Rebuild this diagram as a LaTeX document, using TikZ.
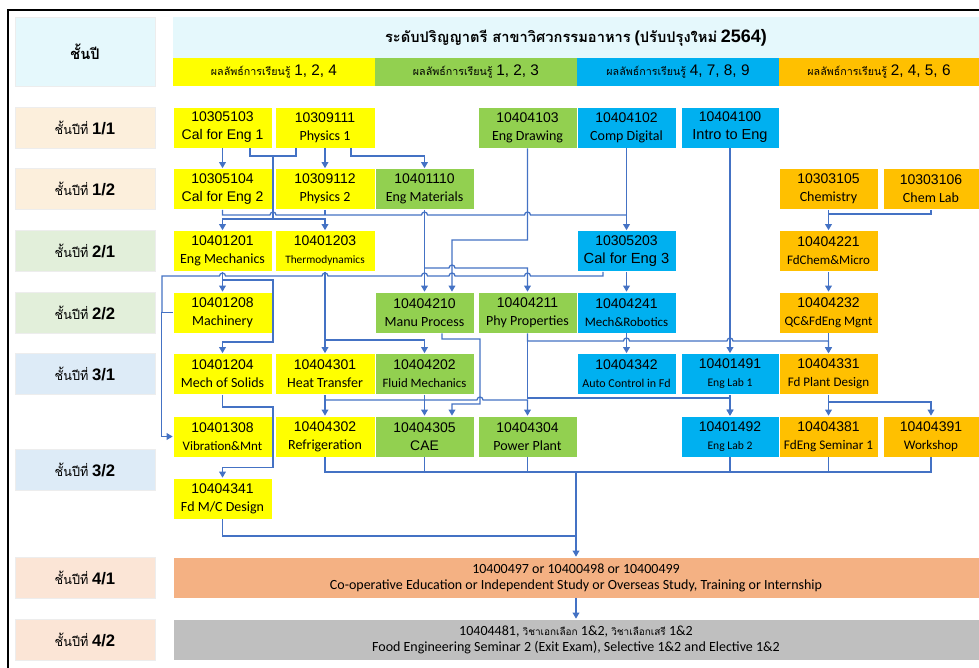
\documentclass[tikz,border=0pt]{standalone}
\usepackage{fontspec}
\setmainfont{Liberation Sans}
\newfontfamily\calfont{Carlito}
\newfontfamily\thaifont[Script=Thai]{Loma}
\usetikzlibrary{arrows.meta}
\definecolor{cyel}{HTML}{FFFF00}
\definecolor{cgrn}{HTML}{92D050}
\definecolor{cblu}{HTML}{00B0F0}
\definecolor{corg}{HTML}{FFC000}
\definecolor{cline}{HTML}{4472C4}
\definecolor{hdr}{HTML}{E5F8FC}
\definecolor{labA}{HTML}{FCEFDC}
\definecolor{labB}{HTML}{E2EFDA}
\definecolor{labC}{HTML}{DDEBF7}
\definecolor{labD}{HTML}{FBE5D6}
\definecolor{bandA}{HTML}{F4B183}
\definecolor{bandB}{HTML}{BFBFBF}
\newcommand\nm[2][10.5]{{\calfont\fontsize{#1}{13.5}\selectfont #2}}
\newcommand\hpr{arc[start angle=180,end angle=0,radius=2.25pt]}
\newcommand\hpl{arc[start angle=0,end angle=180,radius=2.25pt]}
\newcommand\rowlab[1]{{\thaifont\fontsize{9.5}{11}\selectfont ชั้นปีที่}~{\bfseries\fontsize{12.5}{13}\selectfont #1}}
\newcommand\plo[1]{{\thaifont\fontsize{8}{9}\selectfont ผลลัพธ์การเรียนรู้}~{\fontsize{11.5}{12}\selectfont #1}}
\begin{document}
\begin{tikzpicture}[x=0.75pt,y=-0.75pt,
  cb/.style={fill=#1, draw=white, line width=0.5pt, minimum width=74.25pt, minimum height=30.75pt, inner sep=0pt, align=center, font=\fontsize{10.5}{13.5}\selectfont},
  lb/.style={fill=#1, draw=black!7, line width=0.5pt, minimum width=105pt, minimum height=30.75pt, inner sep=0pt},
  band/.style={fill=#1, minimum width=151.5pt, minimum height=21pt, inner sep=0pt},
  wide/.style={fill=#1, draw=white, line width=0.5pt, minimum width=604.5pt, minimum height=30.75pt, inner sep=0pt, align=center},
  con/.style={draw=cline, line width=0.95pt},
  arr/.style={con, -{Triangle[width=5pt,length=4.5pt]}}]
\useasboundingbox (0,0) rectangle (979,668);
\fill[white] (0,0) rectangle (979,668);
\draw[line width=1.3pt] (8,668) -- (8,10) -- (979,10);

% header
\node[fill=hdr, draw=black!7, line width=0.5pt, minimum width=105pt, minimum height=51.75pt, inner sep=0pt] (hd) at (85,51.5) {\thaifont\bfseries\fontsize{11}{13}\selectfont ชั้นปี};
\node[fill=hdr, minimum width=604.5pt, minimum height=30.75pt, inner sep=0pt] (title) at (576,37.5) {{\thaifont\bfseries\fontsize{11}{13}\selectfont ระดับปริญญาตรี สาขาวิศวกรรมอาหาร}~{\bfseries\fontsize{12}{13}\selectfont(}{\thaifont\bfseries\fontsize{11}{13}\selectfont ปรับปรุงใหม่}~{\bfseries\fontsize{13.5}{14}\selectfont 2564)}};
\node[band=cyel] (pa) at (274,72) {\plo{1, 2, 4}};
\node[band=cgrn] (pb) at (476,72) {\plo{1, 2, 3}};
\node[band=cblu] (pc) at (678,72) {\plo{4, 7, 8, 9}};
\node[band=corg, minimum width=150pt] (pd) at (879,72) {\plo{2, 4, 5, 6}};

% row labels
\node[lb=labA] (l11) at (85,127.5) {\rowlab{1/1}};
\node[lb=labA] (l12) at (85,189) {\rowlab{1/2}};
\node[lb=labB] (l21) at (85,251) {\rowlab{2/1}};
\node[lb=labB] (l22) at (85,312.5) {\rowlab{2/2}};
\node[lb=labC] (l31) at (85,374) {\rowlab{3/1}};
\node[lb=labC] (l32) at (85,469.5) {\rowlab{3/2}};
\node[lb=labD] (l41) at (85,577.5) {\rowlab{4/1}};
\node[lb=labD] (l42) at (85,639.5) {\rowlab{4/2}};

% row 1/1
\node[cb=cyel] (cal1) at (222.5,127.5) {10305103\\Cal for Eng 1};
\node[cb=cyel, minimum width=75pt] (phy1) at (325,127.5) {10309111\\\nm{Physics 1}};
\node[cb=cgrn] (drw) at (527.5,127.5) {10404103\\\nm{Eng Drawing}};
\node[cb=cblu] (comp) at (626.5,127.5) {10404102\\\nm{Comp Digital}};
\node[cb=cblu, minimum width=73.5pt] (intro) at (730,127.5) {10404100\\{\fontsize{10.9}{13.5}\selectfont Intro to Eng}};
% row 1/2
\node[cb=cyel] (cal2) at (222.5,189) {10305104\\Cal for Eng 2};
\node[cb=cyel, minimum width=75pt] (phy2) at (325,189) {10309112\\\nm{Physics 2}};
\node[cb=cgrn] (matl) at (424.5,189) {10401110\\\nm{Eng Materials}};
\node[cb=corg] (chem) at (828.5,189) {10303105\\\nm{Chemistry}};
\node[cb=corg, minimum width=72pt] (chemlab) at (931,189) {10303106\\\nm{Chem Lab}};
% row 2/1
\node[cb=cyel] (mech) at (222.5,251) {10401201\\\nm{Eng Mechanics}};
\node[cb=cyel, minimum width=75pt] (thermo) at (325,251) {10401203\\\nm[8.5]{Thermodynamics}};
\node[cb=cblu] (cal3) at (626.5,251) {10305203\\{\fontsize{11}{13.5}\selectfont Cal for Eng 3}};
\node[cb=corg] (fdchem) at (828.5,251) {10404221\\\nm[9.75]{FdChem\&Micro}};
% row 2/2
\node[cb=cyel] (mach) at (222.5,312.5) {10401208\\\nm{Machinery}};
\node[cb=cgrn] (manu) at (424.5,312.5) {10404210\\\nm{Manu Process}};
\node[cb=cgrn] (phyprop) at (527.5,312.5) {10404211\\\nm{Phy Properties}};
\node[cb=cblu] (mechrob) at (626.5,312.5) {10404241\\\nm[9.7]{Mech\&Robotics}};
\node[cb=corg] (qc) at (828.5,312.5) {10404232\\\nm[9.75]{QC\&FdEng Mgnt}};
% row 3/1
\node[cb=cyel] (solids) at (222.5,374) {10401204\\\nm{Mech of Solids}};
\node[cb=cyel, minimum width=75pt] (ht) at (325,374) {10404301\\\nm{Heat Transfer}};
\node[cb=cgrn] (fluid) at (424.5,374) {10404202\\\nm[9.6]{Fluid Mechanics}};
\node[cb=cblu] (auto) at (626.5,374) {10404342\\\nm[9]{Auto Control in Fd}};
\node[cb=cblu, minimum width=73.5pt] (lab1) at (730,374) {10401491\\\nm[8.7]{Eng Lab 1}};
\node[cb=corg] (fdplant) at (828.5,374) {10404331\\\nm[9.8]{Fd Plant Design}};
% row 3/2
\node[cb=cyel] (vib) at (222.5,436.5) {10401308\\\nm[9.75]{Vibration\&Mnt}};
\node[cb=cyel, minimum width=75pt] (refrig) at (325,436.5) {10404302\\\nm{Refrigeration}};
\node[cb=cgrn] (cae) at (424.5,436.5) {10404305\\{\fontsize{10.4}{13.5}\selectfont CAE}};
\node[cb=cgrn] (pp) at (527.5,436.5) {10404304\\\nm{Power Plant}};
\node[cb=cblu, minimum width=73.5pt] (lab2) at (730,436.5) {10401492\\\nm[8.7]{Eng Lab 2}};
\node[cb=corg] (sem1) at (828.5,436.5) {10404381\\\nm[9.9]{FdEng Seminar 1}};
\node[cb=corg, minimum width=72pt] (work) at (931,436.5) {10404391\\\nm[9.8]{Workshop}};
\node[cb=cyel] (fdmc) at (222.5,498.5) {10404341\\\nm{Fd M/C Design}};
% row 4
\node[wide=bandA] (coop) at (576,577.5) {\calfont\fontsize{10.5}{15}\selectfont 10400497 or 10400498 or 10400499\\\calfont\fontsize{10.5}{15}\selectfont Co-operative Education or Independent Study or Overseas Study, Training or Internship};
\node[wide=bandB] (final) at (576,639.5) {\calfont\fontsize{10.5}{15}\selectfont 10404481, {\thaifont\fontsize{7.5}{9}\selectfont วิชาเอกเลือก} 1\&2, {\thaifont\fontsize{7.5}{9}\selectfont วิชาเลือกเสรี} 1\&2\\\calfont\fontsize{10.5}{15}\selectfont Food Engineering Seminar 2 (Exit Exam), Selective 1\&2 and Elective 1\&2};

% ---- connectors ----
\draw[arr] (cal1.south) -- (cal2.north);
\draw[arr] (phy1.south) -- (phy2.north);
\draw[arr] ([xshift=19.5pt]phy1.south) |- (424.5,156) -- (matl.north);
\draw[con] ([xshift=20.6pt]cal1.south) |- (296,156) -- ([xshift=-21.75pt]phy1.south);
\draw[arr] (273,156) -- (273,219) -| (mech.north);
\draw[arr] (273,219) -| (thermo.north);
\draw[con] (cal2.south) |- (270,215) \hpr -- (421.5,215) \hpr -- (524.5,215) \hpr -- (626.5,215);
\draw[con] (phy2.south) -- (325,215);
\draw[arr] (comp.south) -- (cal3.north);
\draw[arr] (matl.south) -- (manu.north);
\draw[arr] (424.5,268) -- (449,268) \hpr -- (527.5,268) -- (phyprop.north);
\draw[arr] (drw.south) |- (452,240) -- ([xshift=20.6pt]manu.north);
\draw[arr] (cal3.south) -- (mechrob.north);
\draw[con] ([xshift=-17.6pt]cal3.south) |- (530.5,276) \hpl -- (455,276) \hpl -- (427.5,276) \hpl -- (328,276) \hpl -- (225.5,276) \hpl -- (162,276) -- (162,312.5);
\draw[arr] (mach.west) -| ([xshift=-8.25pt]vib.west) -- (vib.west);
\draw[arr] (mech.south) -- (mach.north);
\draw[arr] (222.5,280) -- (273,280) -- (273,342) -| (solids.north);
\draw[arr] (solids.south) |- (273,407) |- ([yshift=7.5pt]fdmc.north) -- (fdmc.north);
\draw[arr] (thermo.south) -- (ht.north);
\draw[arr] (325,340) -| (fluid.north);
\draw[arr] ([xshift=13.1pt]manu.south) |- (480,339) |- (452,404) -- ([xshift=20.6pt]cae.north);
\draw[arr] (ht.south) -- (refrig.north);
\draw[arr] (fluid.south) -- (cae.north);
\draw[arr] (325,400) -- (477,400) \hpr -- (527.5,400) -- (pp.north);
\draw[arr] (phyprop.south) |- (623.5,341) \hpr -- (727,341) \hpr -- (828.5,341) -- (fdplant.north);
\draw[arr] (527.5,341) -- (527.5,398) -| (lab2.north);
\draw[arr] (mechrob.south) -- (auto.north);
\draw[arr] (qc.south) -- (fdplant.north);
\draw[arr] (intro.south) -- (lab1.north);
\draw[arr] (lab1.south) -- (lab2.north);
\draw[arr] (chem.south) -- (fdchem.north);
\draw[con] (chemlab.south) |- (828.5,214);
\draw[arr] (fdchem.south) -- (qc.north);
\draw[arr] (fdplant.south) -- (sem1.north);
\draw[arr] (828.5,402) -| (work.north);
\draw[con] (refrig.south) |- (931,472) -- (work.south);
\draw[con] (cae.south) -- (424.5,472);
\draw[con] (pp.south) -- (527.5,472);
\draw[con] (lab2.south) -- (730,472);
\draw[con] (sem1.south) -- (828.5,472);
\draw[con] (fdmc.south) |- (576,536);
\draw[arr] (576,472) -- (coop.north);
\draw[arr] (coop.south) -- (final.north);
\end{tikzpicture}
\end{document}
